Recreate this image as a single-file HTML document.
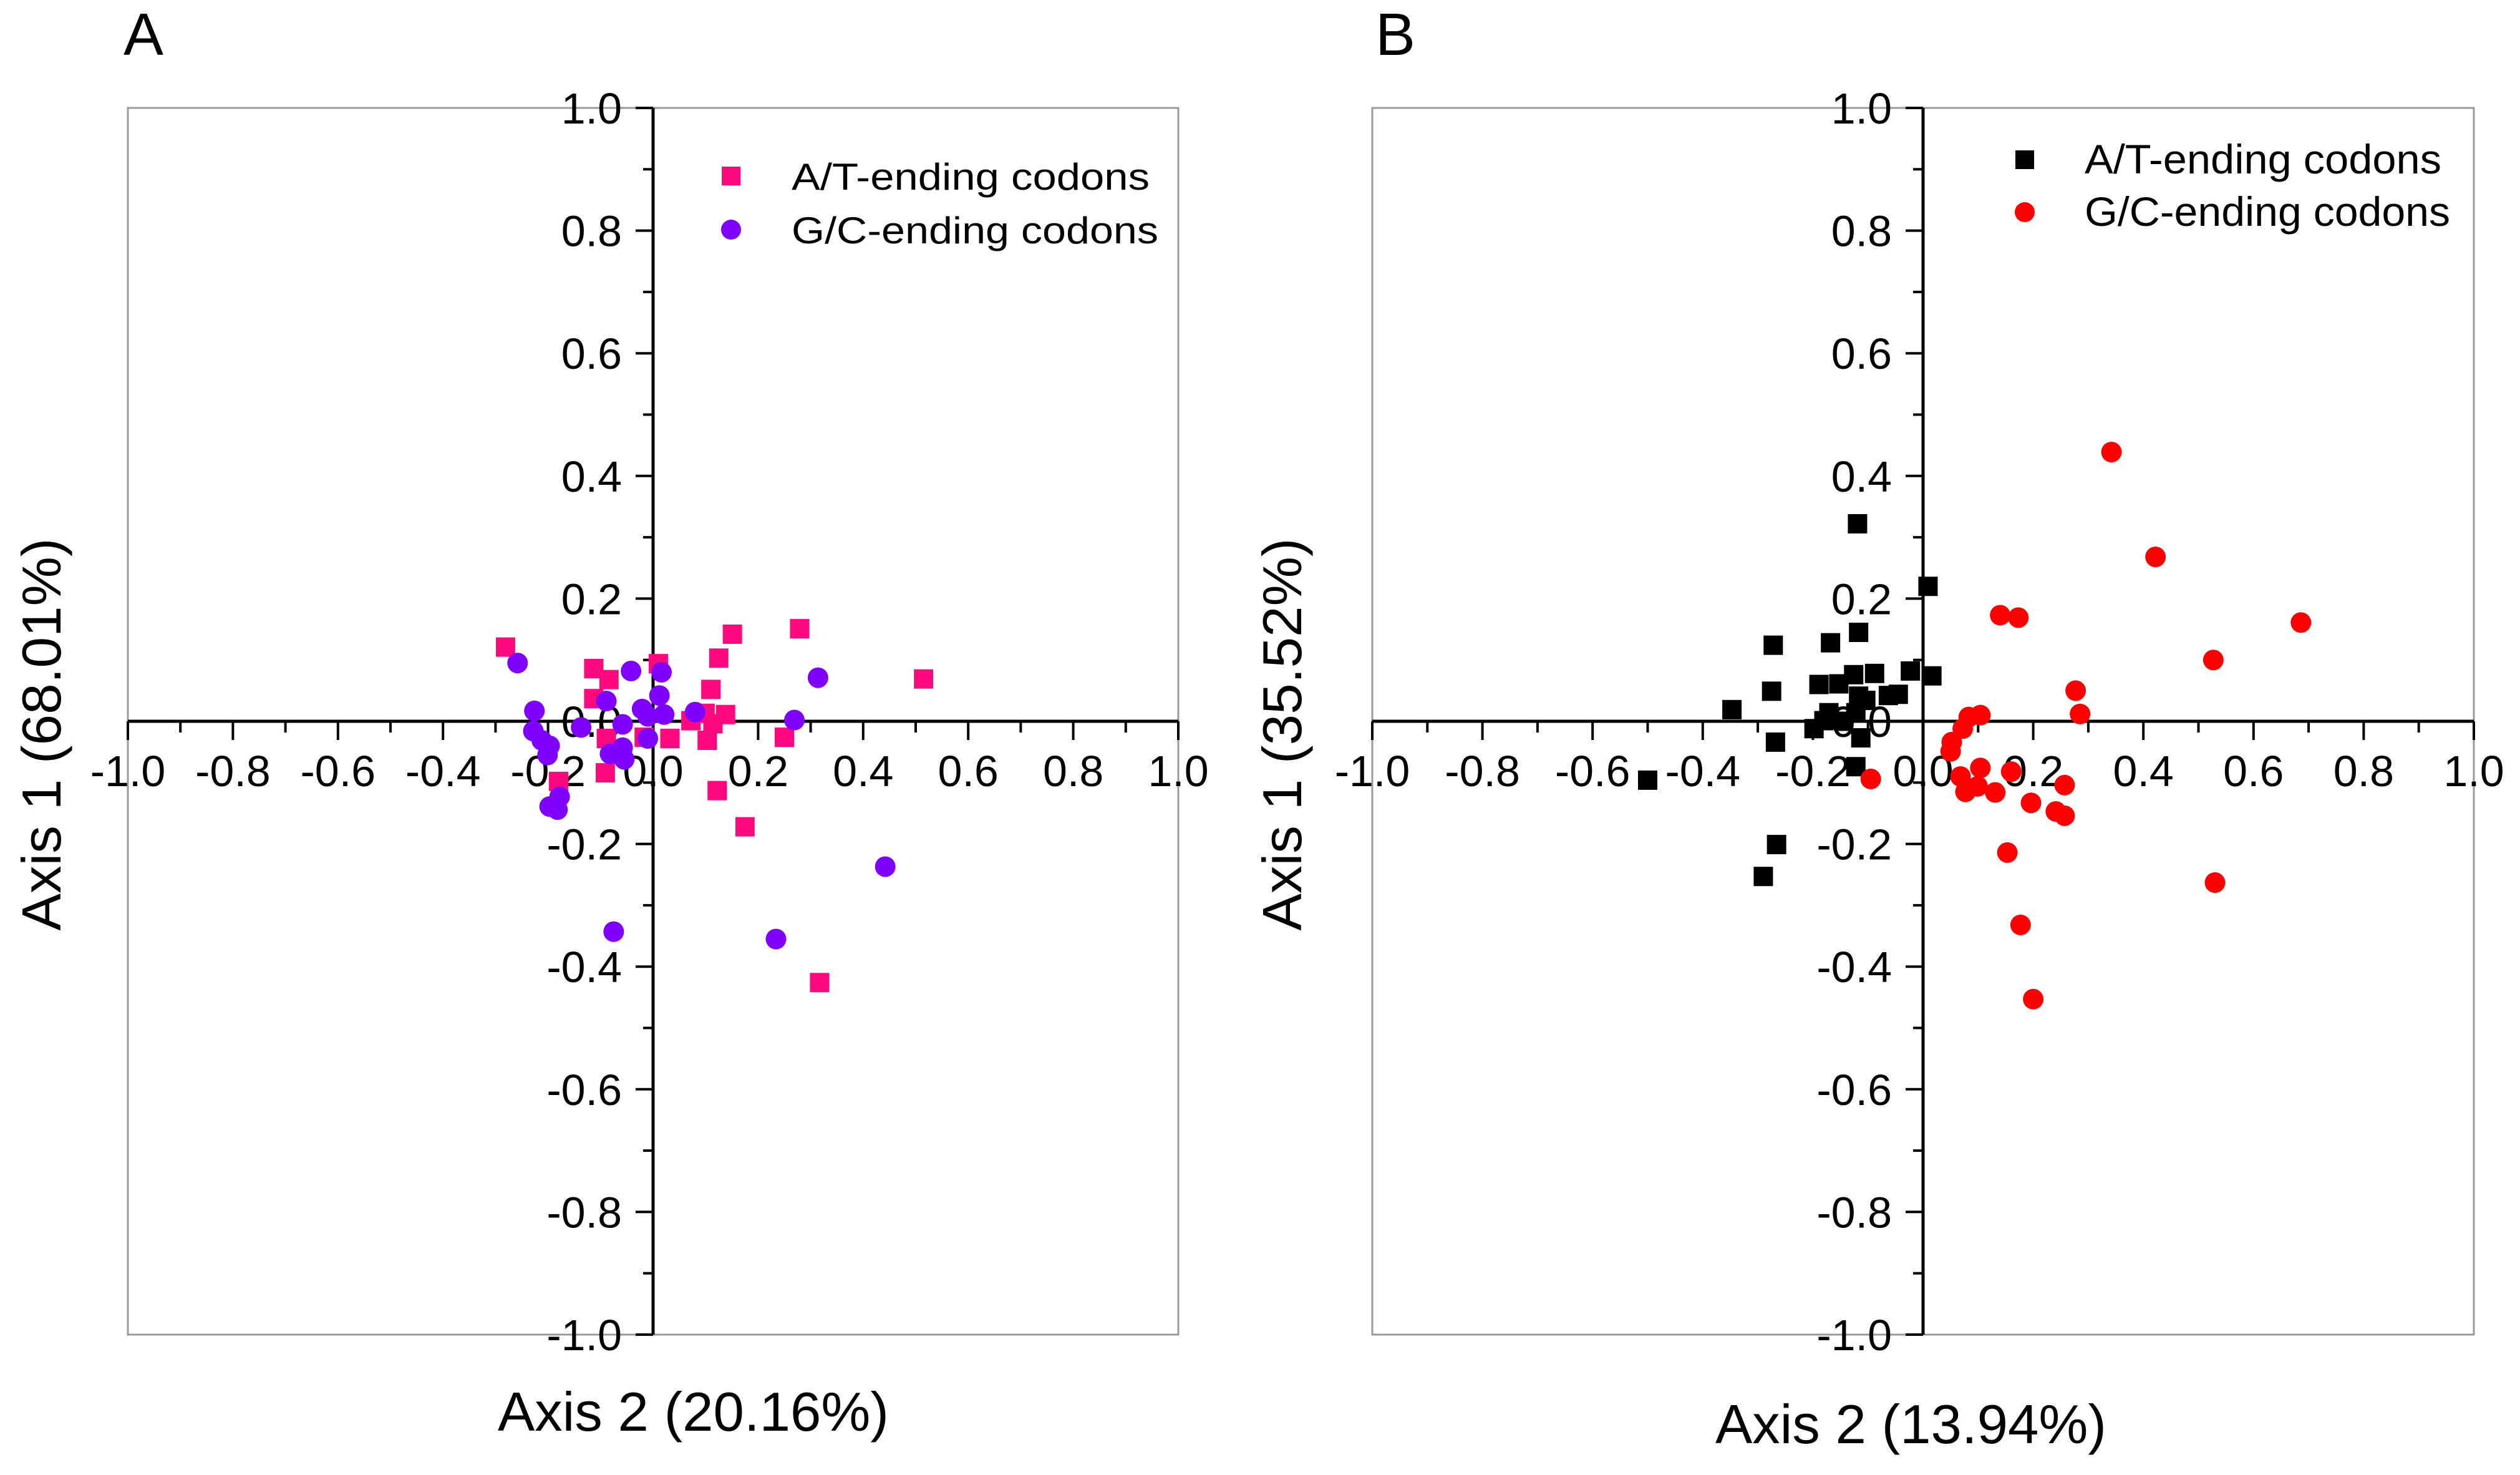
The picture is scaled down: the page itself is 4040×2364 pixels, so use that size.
<!DOCTYPE html>
<html><head><meta charset="utf-8"><style>
html,body{margin:0;padding:0;background:#fff;}
svg{display:block;font-family:"Liberation Sans",Arial,sans-serif;}
</style></head><body>
<svg id="chart" width="4040" height="2364" viewBox="0 0 4040 2364" xmlns="http://www.w3.org/2000/svg"></svg>
<script>
// ---- Panel A data ----
const aAtX = [-0.281,-0.113,-0.084,-0.113,0.010,0.151,0.279,0.125,0.110,0.515,0.072,0.099,0.114,0.138,-0.089,-0.017,0.032,0.103,0.250,-0.091,-0.180,0.122,0.175,0.317];
const aAtY = [0.121,0.086,0.068,0.037,0.094,0.142,0.151,0.103,0.052,0.069,0.001,0.013,-0.004,0.011,-0.028,-0.026,-0.028,-0.031,-0.026,-0.084,-0.098,-0.113,-0.172,-0.426];
const aGcX = [-0.258,-0.226,-0.228,-0.212,-0.197,-0.201,-0.137,-0.089,-0.058,-0.042,-0.021,-0.010,0.016,0.012,0.021,-0.010,0.080,0.269,0.314,-0.082,-0.058,-0.055,-0.178,-0.197,-0.182,-0.075,0.234,0.442];
const aGcY = [0.095,0.017,-0.016,-0.031,-0.040,-0.055,-0.010,0.033,-0.005,0.082,0.020,0.008,0.080,0.042,0.011,-0.028,0.015,0.002,0.071,-0.053,-0.043,-0.062,-0.123,-0.139,-0.144,-0.343,-0.355,-0.237];
// ---- Panel B data ----
const bAtX = [-0.119,0.009,-0.117,-0.272,-0.168,-0.275,-0.347,-0.189,-0.153,-0.126,-0.088,-0.023,0.016,-0.063,-0.045,-0.117,-0.104,-0.171,-0.180,-0.198,-0.122,-0.113,-0.144,-0.268,-0.122,-0.500,-0.266,-0.290];
const bAtY = [0.322,0.220,0.145,0.124,0.128,0.049,0.019,0.060,0.061,0.076,0.078,0.082,0.074,0.042,0.044,0.041,0.034,0.014,0.001,-0.012,0.014,-0.027,0.000,-0.034,-0.074,-0.096,-0.201,-0.253];
const bGcX = [0.342,0.422,0.140,0.173,0.686,0.527,0.277,0.285,0.104,0.083,0.072,0.052,0.050,-0.095,0.068,0.104,0.099,0.077,0.160,0.131,0.257,0.196,0.241,0.257,0.153,0.530,0.177,0.200];
const bGcY = [0.439,0.268,0.173,0.169,0.161,0.100,0.050,0.012,0.010,0.007,-0.012,-0.034,-0.049,-0.094,-0.090,-0.076,-0.106,-0.115,-0.082,-0.116,-0.104,-0.133,-0.147,-0.154,-0.214,-0.263,-0.332,-0.453];
const tickLabels = ["-1.0","-0.8","-0.6","-0.4","-0.2","0.0","0.2","0.4","0.6","0.8","1.0"];
const tickValues = [-1,-0.8,-0.6,-0.4,-0.2,0,0.2,0.4,0.6,0.8,1];

const NS = "http://www.w3.org/2000/svg";
const svg = document.getElementById('chart');
function mk(tag, attrs, parent){
  const e = document.createElementNS(NS, tag);
  for (const k in attrs) e.setAttribute(k, attrs[k]);
  (parent||svg).appendChild(e);
  return e;
}

function panel(cfg){
  const g = mk('g', {});
  
  
  const L=cfg.left, R=cfg.right, T=173, B=2139;
  const cx=(L+R)/2, cy=(T+B)/2;
  const sx = v => cx + v*(R-L)/2;
  const sy = v => cy - v*(B-T)/2;
  const frame = mk('rect', {x:L,y:T,width:R-L,height:B-T,fill:'none',stroke:'#9a9a9a','stroke-width':3}, g);
  
  
  // letter
  const lt = mk('text', {x:cfg.letterX,y:88,'font-size':96}, g);
  lt.textContent = cfg.letter;
  
  
  // axes
  const xa = mk('line', {x1:L,y1:sy(0),x2:R,y2:sy(0),stroke:'#000','stroke-width':5}, g);
  
  
  const ya = mk('line', {x1:sx(0),y1:T,x2:sx(0),y2:B,stroke:'#000','stroke-width':5}, g);
  
  
  // ticks
  for (let i=-10;i<=10;i++){
    const v=i/10, major = (i%2===0);
    const tx = mk('line', {x1:sx(v),y1:sy(0),x2:sx(v),y2:sy(0)+(major?30:18),stroke:'#000','stroke-width':4}, g);
    
    
    const ty = mk('line', {x1:sx(0),y1:sy(v),x2:sx(0)-(major?28:16),y2:sy(v),stroke:'#000','stroke-width':4}, g);
    
    
  }
  tickValues.forEach((v,i)=>{
    const t = mk('text', {x:sx(v),y:sy(0)+104,'font-size':70,'text-anchor':'middle'}, g);
    t.textContent = tickLabels[i];
    
    
    const u = mk('text', {x:sx(0)-50,y:sy(v)+25,'font-size':70,'text-anchor':'end'}, g);
    u.textContent = tickLabels[i];
    
    
  });
  // axis titles
  const xt = mk('text', {x:cfg.xTitleX,y:cfg.xTitleY,'font-size':88,textLength:627,lengthAdjust:'spacingAndGlyphs'}, g);
  xt.textContent = cfg.xTitle;
  
  
  const yt = mk('text', {x:0,y:0,'font-size':88,'text-anchor':'middle',textLength:629,lengthAdjust:'spacingAndGlyphs',transform:`translate(${cfg.yTitleX},1177) rotate(-90)`}, g);
  yt.textContent = cfg.yTitle;
  
  
  // series
  const sq = 31, r = 16.5;
  cfg.atX.forEach((xv,i)=>{
    const m = mk('rect', {x:sx(xv)-sq/2,y:sy(cfg.atY[i])-sq/2,width:sq,height:sq,fill:cfg.atColor}, g);
    
    
  });
  cfg.gcX.forEach((xv,i)=>{
    const m = mk('circle', {cx:sx(xv),cy:sy(cfg.gcY[i]),r:r,fill:cfg.gcColor}, g);
    
    
  });
  // legend
  const lg = mk('g', {}, g);
  
  
  const le1 = mk('rect', {x:cfg.legX-15,y:cfg.leg1Y-15,width:30,height:30,fill:cfg.atColor}, lg);
  
  
  const lt1 = mk('text', {x:cfg.legTextX,y:cfg.leg1Y+cfg.legOff,'font-size':cfg.legFont,textLength:cfg.legW,lengthAdjust:'spacingAndGlyphs'}, lg);
  lt1.textContent = 'A/T-ending codons';
  
  
  const le2 = mk('circle', {cx:cfg.legX,cy:cfg.leg2Y,r:16,fill:cfg.gcColor}, lg);
  
  
  const lt2 = mk('text', {x:cfg.legTextX,y:cfg.leg2Y+cfg.legOff,'font-size':cfg.legFont,textLength:cfg.legW+14,lengthAdjust:'spacingAndGlyphs'}, lg);
  lt2.textContent = 'G/C-ending codons';
  
  
}

panel({name:'panel-a',left:205,right:1889,letter:'A',letterX:198,
  xTitle:'Axis 2 (20.16%)',xTitleX:798,xTitleY:2293,yTitle:'Axis 1 (68.01%)',yTitleX:97,
  atX:aAtX,atY:aAtY,gcX:aGcX,gcY:aGcY,atColor:'#ff0a7e',gcColor:'#8000ff',
  legX:1172,leg1Y:282,leg2Y:368,legTextX:1269,legOff:22,legFont:60,legW:574});
panel({name:'panel-b',left:2200,right:3966,letter:'B',letterX:2205,
  xTitle:'Axis 2 (13.94%)',xTitleX:2750,xTitleY:2313,yTitle:'Axis 1 (35.52%)',yTitleX:2086,
  atX:bAtX,atY:bAtY,gcX:bGcX,gcY:bGcY,atColor:'#000000',gcColor:'#ff0000',
  legX:3246,leg1Y:256,leg2Y:340,legTextX:3342,legOff:22,legFont:66,legW:572});
</script>
</body></html>
